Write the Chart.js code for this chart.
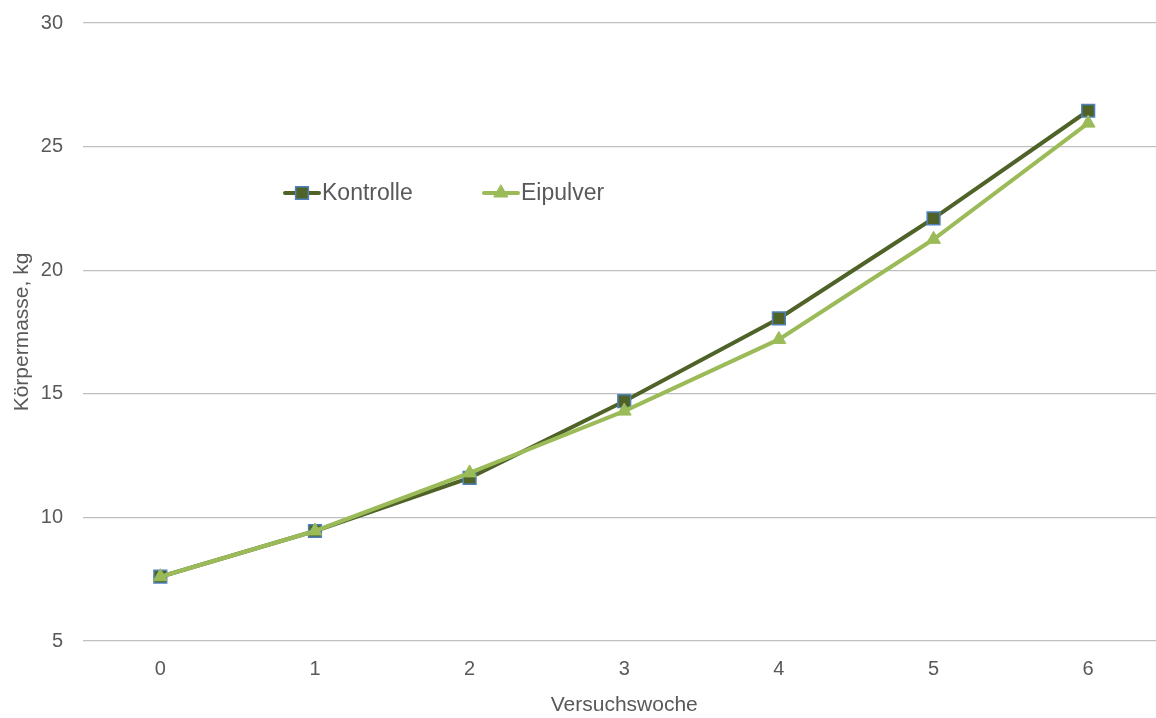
<!DOCTYPE html>
<html>
<head>
<meta charset="utf-8">
<script src="https://cdn.jsdelivr.net/npm/chart.js@4.4.1/dist/chart.umd.min.js"></script>
<style>
  html, body { margin: 0; padding: 0; background: #fff; overflow: hidden; }
  #wrap { width: 1176px; height: 727px; position: relative; top: -9px; }
</style>
</head>
<body>
<div id="wrap"><canvas id="chart"></canvas></div>
<script>
// Körpermasse je Versuchswoche
const weeks = ['0', '1', '2', '3', '4', '5', '6'];
const kontrolle = [7.6, 9.45, 11.6, 14.7, 18.05, 22.1, 26.45];
const eipulver = [7.6, 9.45, 11.8, 14.3, 17.2, 21.25, 25.95];

const textColor = '#595959';
const fontFamily = 'Arial, "Liberation Sans", sans-serif';

// Legend drawn inside the plot area (page coords, canvas is shifted up 9px)
const innerLegend = {
  id: 'innerLegend',
  afterDraw(chart) {
    const ctx = chart.ctx;
    const items = [
      { ds: 0, x: 285, y: 202 },
      { ds: 1, x: 484, y: 202 }
    ];
    ctx.save();
    items.forEach(it => {
      const ds = chart.data.datasets[it.ds];
      ctx.strokeStyle = ds.borderColor;
      ctx.lineWidth = ds.borderWidth;
      ctx.lineCap = 'round';
      ctx.beginPath();
      ctx.moveTo(it.x, it.y);
      ctx.lineTo(it.x + 34, it.y);
      ctx.stroke();
      ctx.fillStyle = ds.pointBackgroundColor;
      ctx.strokeStyle = ds.pointBorderColor;
      ctx.lineWidth = ds.pointBorderWidth;
      Chart.helpers.drawPoint(ctx, {
        pointStyle: ds.pointStyle,
        radius: ds.pointRadius,
        borderWidth: ds.pointBorderWidth,
        rotation: 0
      }, it.x + 17, it.y);
      ctx.fillStyle = textColor;
      ctx.font = '23px ' + fontFamily;
      ctx.textBaseline = 'middle';
      ctx.textAlign = 'left';
      ctx.fillText(ds.label, it.x + 37, it.y + 1);
    });
    ctx.restore();
  }
};

new Chart(document.getElementById('chart'), {
  type: 'line',
  data: {
    labels: weeks,
    datasets: [
      {
        label: 'Kontrolle',
        data: kontrolle,
        borderColor: '#4f6228',
        borderWidth: 4,
        pointStyle: 'rect',
        pointRadius: 9,
        pointBackgroundColor: '#4f6228',
        pointBorderColor: '#4f81bd',
        pointBorderWidth: 1.5,
        tension: 0,
        order: 2
      },
      {
        label: 'Eipulver',
        data: eipulver,
        borderColor: '#9bbb59',
        borderWidth: 4,
        pointStyle: 'triangle',
        pointRadius: 8,
        pointBackgroundColor: '#9bbb59',
        pointBorderColor: '#9bbb59',
        pointBorderWidth: 1,
        tension: 0,
        order: 1
      }
    ]
  },
  options: {
    responsive: true,
    maintainAspectRatio: false,
    animation: false,
    layout: { padding: { top: 0, right: 2, bottom: 0, left: 0 } },
    plugins: {
      legend: { display: false },
      tooltip: { enabled: false }
    },
    scales: {
      x: {
        offset: true,
        grid: { display: false },
        border: { display: false },
        ticks: {
          color: textColor,
          font: { size: 20, family: fontFamily },
          padding: 8
        },
        title: {
          display: true,
          text: 'Versuchswoche',
          color: textColor,
          font: { size: 21, family: fontFamily },
          padding: { top: 9, bottom: 0 }
        },
        afterFit(scale) { scale.height = 77; }
      },
      y: {
        min: 5,
        max: 30,
        ticks: {
          stepSize: 5,
          color: textColor,
          font: { size: 20, family: fontFamily },
          padding: 20
        },
        grid: { color: '#bfbfbf', lineWidth: 1.3, drawTicks: false },
        border: { display: false },
        title: {
          display: true,
          text: 'Körpermasse, kg',
          color: textColor,
          font: { size: 21, family: fontFamily },
          padding: { top: 10, bottom: 4 }
        },
        afterFit(scale) { scale.width = 83; }
      }
    }
  },
  plugins: [innerLegend]
});
</script>
</body>
</html>
